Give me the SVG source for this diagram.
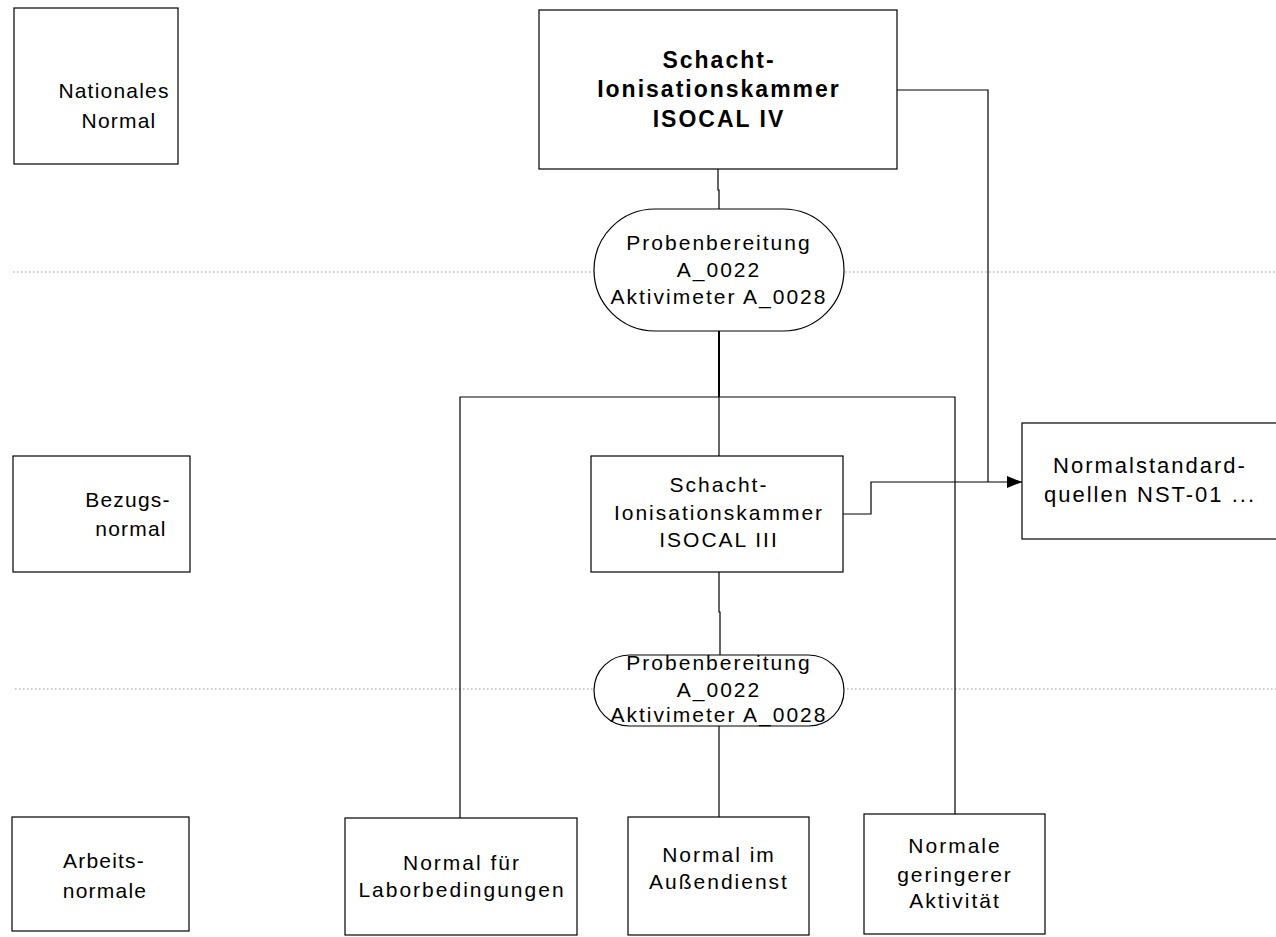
<svg xmlns="http://www.w3.org/2000/svg" width="1276" height="937" viewBox="0 0 1276 937">
<defs>
<style>
.box{fill:#fff;stroke:#000;stroke-width:1.2}
.t{font-family:"Liberation Sans",Arial,sans-serif;font-size:21px;letter-spacing:2px;text-anchor:middle;fill:#000}
.l{font-family:"Liberation Sans",Arial,sans-serif;font-size:21px;letter-spacing:1.2px;text-anchor:middle;fill:#000}
.b{font-family:"Liberation Sans",Arial,sans-serif;font-size:23px;font-weight:bold;letter-spacing:2px;text-anchor:middle;fill:#000}
.c{fill:none;stroke:#000;stroke-width:1.2}
.dot{fill:none;stroke:#999;stroke-width:1.2;stroke-dasharray:1.5 2.5}
</style>
<marker id="arr" markerWidth="16" markerHeight="12" refX="15" refY="6" orient="auto" markerUnits="userSpaceOnUse">
<path d="M0,0 L15,6 L0,12 Z" fill="#000"/>
</marker>
</defs>
<rect width="1276" height="937" fill="#fff"/>
<g id="guides">
<line class="dot" x1="13" y1="272" x2="1276" y2="272"/>
<line class="dot" x1="15" y1="689" x2="1276" y2="689"/>
</g>
<g id="connectors">
<path class="c" d="M718,169 V190 H719 V209"/>
<path class="c" d="M719,331 V397" style="stroke-width:2"/>
<path class="c" d="M460,818 V397 H955 V814"/>
<path class="c" d="M719,397 V456"/>
<path class="c" d="M719,572 V612 H720 V655"/>
<path class="c" d="M719,726 V817"/>
<path class="c" d="M897,90 H988 V482"/>
<path class="c" d="M843,514 H871 V482 H1022" marker-end="url(#arr)"/>
</g>
<g id="n-national">
<rect class="box" x="14" y="8" width="164" height="156"/>
<text class="l" x="114" y="98">Nationales</text>
<text class="l" x="119" y="128">Normal</text>
</g>
<g id="n-bezug">
<rect class="box" x="13" y="456" width="177" height="116"/>
<text class="l" x="128" y="507">Bezugs-</text>
<text class="l" x="131" y="536">normal</text>
</g>
<g id="n-arbeit">
<rect class="box" x="12" y="817" width="177" height="114"/>
<text class="l" x="104" y="868">Arbeits-</text>
<text class="l" x="105" y="898">normale</text>
</g>
<g id="n-iv">
<rect class="box" x="539" y="10" width="358" height="159"/>
<text class="b" x="719" y="68">Schacht-</text>
<text class="b" x="719" y="97">Ionisationskammer</text>
<text class="b" x="719" y="127">ISOCAL IV</text>
</g>
<g id="n-prob1">
<rect class="box" x="594" y="209" width="250" height="122" rx="61" ry="61"/>
<text class="t" x="719" y="250">Probenbereitung</text>
<text class="t" x="719" y="277">A_0022</text>
<text class="t" x="719" y="304">Aktivimeter A_0028</text>
</g>
<g id="n-iii">
<rect class="box" x="591" y="456" width="252" height="116"/>
<text class="t" x="719" y="492">Schacht-</text>
<text class="t" x="719" y="520">Ionisationskammer</text>
<text class="t" x="719" y="547">ISOCAL III</text>
</g>
<g id="n-nst">
<rect class="box" x="1022" y="423" width="260" height="116"/>
<text class="t" x="1150" y="473" style="font-size:22px">Normalstandard-</text>
<text class="t" x="1150" y="502" style="font-size:22px">quellen NST-01 ...</text>
</g>
<g id="n-prob2">
<rect class="box" x="594" y="655" width="250" height="71" rx="35.5" ry="35.5"/>
<text class="t" x="719" y="670">Probenbereitung</text>
<text class="t" x="719" y="697">A_0022</text>
<text class="t" x="719" y="722">Aktivimeter A_0028</text>
</g>
<g id="n-labor">
<rect class="box" x="345" y="818" width="232" height="117"/>
<text class="t" x="462" y="870">Normal für</text>
<text class="t" x="462" y="897">Laborbedingungen</text>
</g>
<g id="n-aussen">
<rect class="box" x="628" y="817" width="181" height="118"/>
<text class="t" x="719" y="862">Normal im</text>
<text class="t" x="719" y="889">Außendienst</text>
</g>
<g id="n-gering">
<rect class="box" x="864" y="814" width="181" height="120"/>
<text class="t" x="955" y="853">Normale</text>
<text class="t" x="955" y="882">geringerer</text>
<text class="t" x="955" y="908">Aktivität</text>
</g>
</svg>
